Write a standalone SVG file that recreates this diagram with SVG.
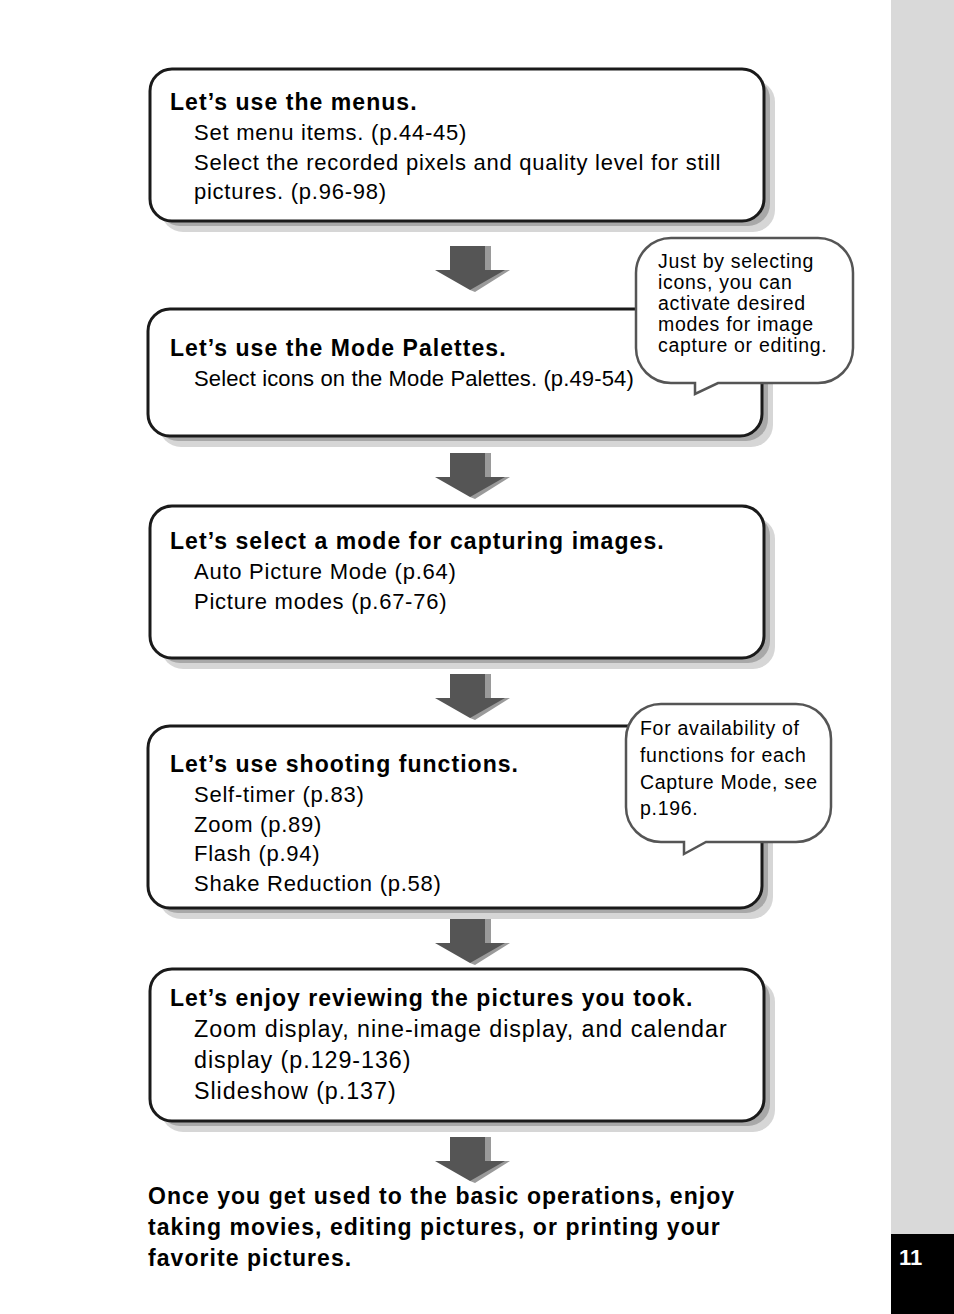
<svg xmlns="http://www.w3.org/2000/svg" width="954" height="1314" viewBox="0 0 954 1314">
<defs>
<style>
.sh2{fill:#d6d6d6}
.sh1{fill:#a8a8a8}
.box{fill:#fff;stroke:#1a1a1a;stroke-width:3}
.t{font-family:"Liberation Sans",Arial,sans-serif;fill:#000}
.h{font-size:23px;font-weight:bold;letter-spacing:1.05px}
.b{font-size:22px;letter-spacing:0.75px}
.bl{font-size:23.3px;letter-spacing:0.95px}
.c{font-size:19.5px;letter-spacing:0.7px}
.bub{fill:#fff;stroke:#555;stroke-width:2.5}
.ar{fill:#555}
.ars{fill:#9a9a9a}
</style>
<g id="arrow">
<polygon class="ars" points="470,0 491,0 491,24 510,24 475,46 470,44"/>
<polygon class="ar" points="450,0 485,0 485,24 505,24 470,44 435,24 450,24"/>
</g>
</defs>
<rect x="0" y="0" width="954" height="1314" fill="#fff"/>
<rect x="891" y="0" width="63" height="1314" fill="#d9d9d9"/>
<rect x="891" y="1234" width="63" height="80" fill="#000"/>
<text class="t" x="899" y="1265" style="font-size:22px;font-weight:bold;fill:#fff">11</text>

<g id="node1">
<rect class="sh2" x="161" y="80" width="614" height="152" rx="22"/>
<rect class="sh1" x="158" y="77" width="612" height="149" rx="22"/>
<rect class="box" x="150" y="69" width="614" height="152" rx="22"/>
<text class="t h" x="170" y="110">Let’s use the menus.</text>
<text class="t b" x="194" y="140">Set menu items. (p.44-45)</text>
<text class="t b" x="194" y="170">Select the recorded pixels and quality level for still</text>
<text class="t b" x="194" y="199">pictures. (p.96-98)</text>
</g>

<g id="node2">
<rect class="sh2" x="159" y="320" width="614" height="127" rx="22"/>
<rect class="sh1" x="156" y="317" width="612" height="124" rx="22"/>
<rect class="box" x="148" y="309" width="614" height="127" rx="22"/>
<text class="t h" x="170" y="356">Let’s use the Mode Palettes.</text>
<text class="t b" x="194" y="386" style="letter-spacing:0.13px">Select icons on the Mode Palettes. (p.49-54)</text>
</g>

<g id="callout1">
<path class="bub" d="M671,238 H818 A35,35 0 0 1 853,273 V348 A35,35 0 0 1 818,383 H718 L695,394 V383 H671 A35,35 0 0 1 636,348 V273 A35,35 0 0 1 671,238 Z"/>
<text class="t c" x="658" y="268">Just by selecting</text>
<text class="t c" x="658" y="289">icons, you can</text>
<text class="t c" x="658" y="310">activate desired</text>
<text class="t c" x="658" y="331">modes for image</text>
<text class="t c" x="658" y="352">capture or editing.</text>
</g>

<g id="node3">
<rect class="sh2" x="161" y="517" width="614" height="152" rx="22"/>
<rect class="sh1" x="158" y="514" width="612" height="149" rx="22"/>
<rect class="box" x="150" y="506" width="614" height="152" rx="22"/>
<text class="t h" x="170" y="549">Let’s select a mode for capturing images.</text>
<text class="t b" x="194" y="579">Auto Picture Mode (p.64)</text>
<text class="t b" x="194" y="609">Picture modes (p.67-76)</text>
</g>

<g id="node4">
<rect class="sh2" x="159" y="737" width="614" height="182" rx="22"/>
<rect class="sh1" x="156" y="734" width="612" height="179" rx="22"/>
<rect class="box" x="148" y="726" width="614" height="182" rx="22"/>
<text class="t h" x="170" y="772">Let’s use shooting functions.</text>
<text class="t b" x="194" y="802">Self-timer (p.83)</text>
<text class="t b" x="194" y="832">Zoom (p.89)</text>
<text class="t b" x="194" y="861">Flash (p.94)</text>
<text class="t b" x="194" y="891">Shake Reduction (p.58)</text>
</g>

<g id="callout2">
<path class="bub" d="M661,704 H796 A35,35 0 0 1 831,739 V807 A35,35 0 0 1 796,842 H706 L684,854 V842 H661 A35,35 0 0 1 626,807 V739 A35,35 0 0 1 661,704 Z"/>
<text class="t c" x="640" y="735">For availability of</text>
<text class="t c" x="640" y="762">functions for each</text>
<text class="t c" x="640" y="789">Capture Mode, see</text>
<text class="t c" x="640" y="815">p.196.</text>
</g>

<g id="node5">
<rect class="sh2" x="161" y="980" width="614" height="152" rx="22"/>
<rect class="sh1" x="158" y="977" width="612" height="149" rx="22"/>
<rect class="box" x="150" y="969" width="614" height="152" rx="22"/>
<text class="t h" x="170" y="1006">Let’s enjoy reviewing the pictures you took.</text>
<text class="t bl" x="194" y="1037">Zoom display, nine-image display, and calendar</text>
<text class="t bl" x="194" y="1068">display (p.129-136)</text>
<text class="t bl" x="194" y="1099">Slideshow (p.137)</text>
</g>

<g id="connectors">
<use href="#arrow" y="246"/>
<use href="#arrow" y="453"/>
<use href="#arrow" y="674"/>
<use href="#arrow" y="919"/>
<use href="#arrow" y="1137"/>
</g>

<g id="final">
<text class="t h" x="148" y="1204">Once you get used to the basic operations, enjoy</text>
<text class="t h" x="148" y="1235">taking movies, editing pictures, or printing your</text>
<text class="t h" x="148" y="1266">favorite pictures.</text>
</g>
</svg>
